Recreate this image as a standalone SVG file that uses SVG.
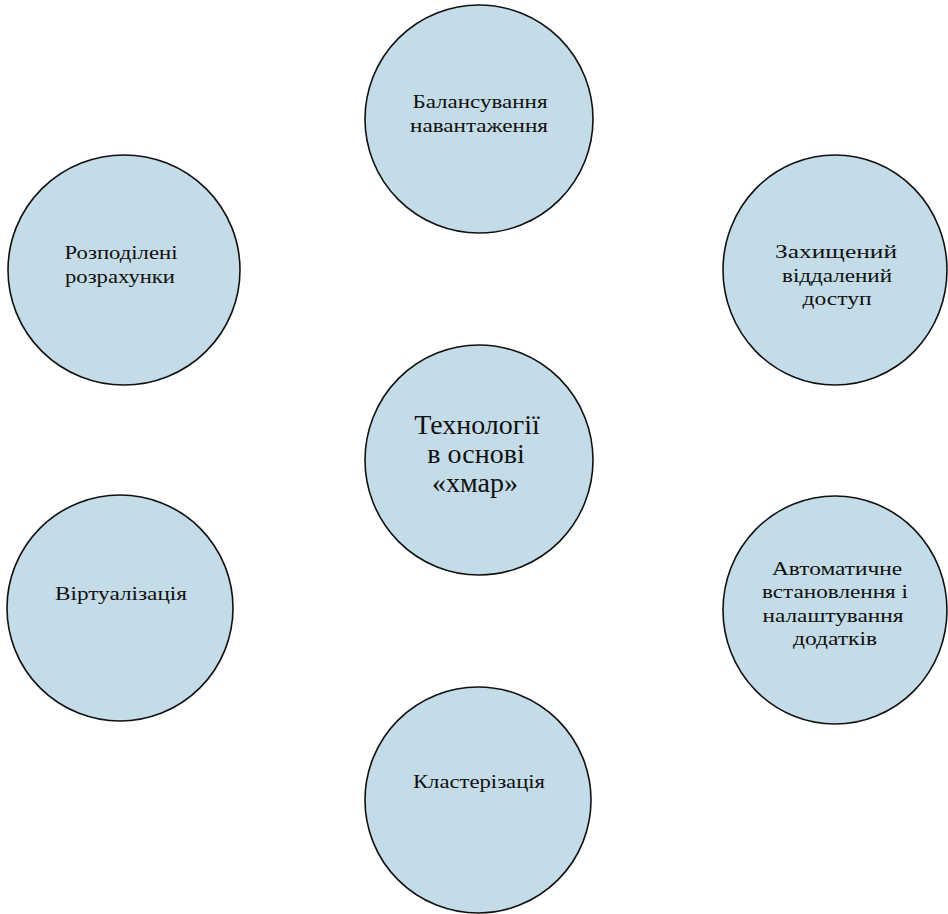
<svg xmlns="http://www.w3.org/2000/svg" width="948" height="914" viewBox="0 0 948 914">
<style>
.n{fill:#c4dce7;stroke:#111;stroke-width:1.6}
.t{font-family:"Liberation Serif","Times New Roman",serif;font-size:18px;fill:#111;text-anchor:middle}
.c{font-family:"Liberation Serif","Times New Roman",serif;font-size:28px;fill:#111;text-anchor:middle}
</style>
<rect width="948" height="914" fill="#fff"/>
<g id="connectors"/>
<g id="n-balance">
<ellipse class="n" cx="479" cy="119" rx="114" ry="114"/>
<text class="t" x="480" y="108" textLength="135" lengthAdjust="spacingAndGlyphs">Балансування</text>
<text class="t" x="479" y="132" textLength="138" lengthAdjust="spacingAndGlyphs">навантаження</text>
</g>
<g id="n-distributed">
<ellipse class="n" cx="124" cy="270" rx="116" ry="115"/>
<text class="t" x="121" y="259" textLength="113" lengthAdjust="spacingAndGlyphs">Розподілені</text>
<text class="t" x="120" y="283" textLength="110" lengthAdjust="spacingAndGlyphs">розрахунки</text>
</g>
<g id="n-access">
<ellipse class="n" cx="835" cy="270" rx="112" ry="115"/>
<text class="t" x="836" y="258" textLength="122" lengthAdjust="spacingAndGlyphs">Захищений</text>
<text class="t" x="837" y="282" textLength="110" lengthAdjust="spacingAndGlyphs">віддалений</text>
<text class="t" x="837" y="305" textLength="69" lengthAdjust="spacingAndGlyphs">доступ</text>
</g>
<g id="n-center">
<ellipse class="n" cx="479" cy="460" rx="114" ry="115"/>
<text class="c" x="477" y="434">Технології</text>
<text class="c" x="476" y="463">в основі</text>
<text class="c" x="475" y="492">«хмар»</text>
</g>
<g id="n-virt">
<ellipse class="n" cx="120" cy="608" rx="113" ry="113"/>
<text class="t" x="121" y="600" textLength="132" lengthAdjust="spacingAndGlyphs">Віртуалізація</text>
</g>
<g id="n-auto">
<ellipse class="n" cx="835" cy="610" rx="112" ry="114"/>
<text class="t" x="837" y="575" textLength="130" lengthAdjust="spacingAndGlyphs">Автоматичне</text>
<text class="t" x="835" y="598" textLength="146" lengthAdjust="spacingAndGlyphs">встановлення і</text>
<text class="t" x="833" y="622" textLength="141" lengthAdjust="spacingAndGlyphs">налаштування</text>
<text class="t" x="835" y="645" textLength="84" lengthAdjust="spacingAndGlyphs">додатків</text>
</g>
<g id="n-cluster">
<ellipse class="n" cx="478" cy="800" rx="113" ry="113"/>
<text class="t" x="479" y="788" textLength="132" lengthAdjust="spacingAndGlyphs">Кластерізація</text>
</g>
</svg>
